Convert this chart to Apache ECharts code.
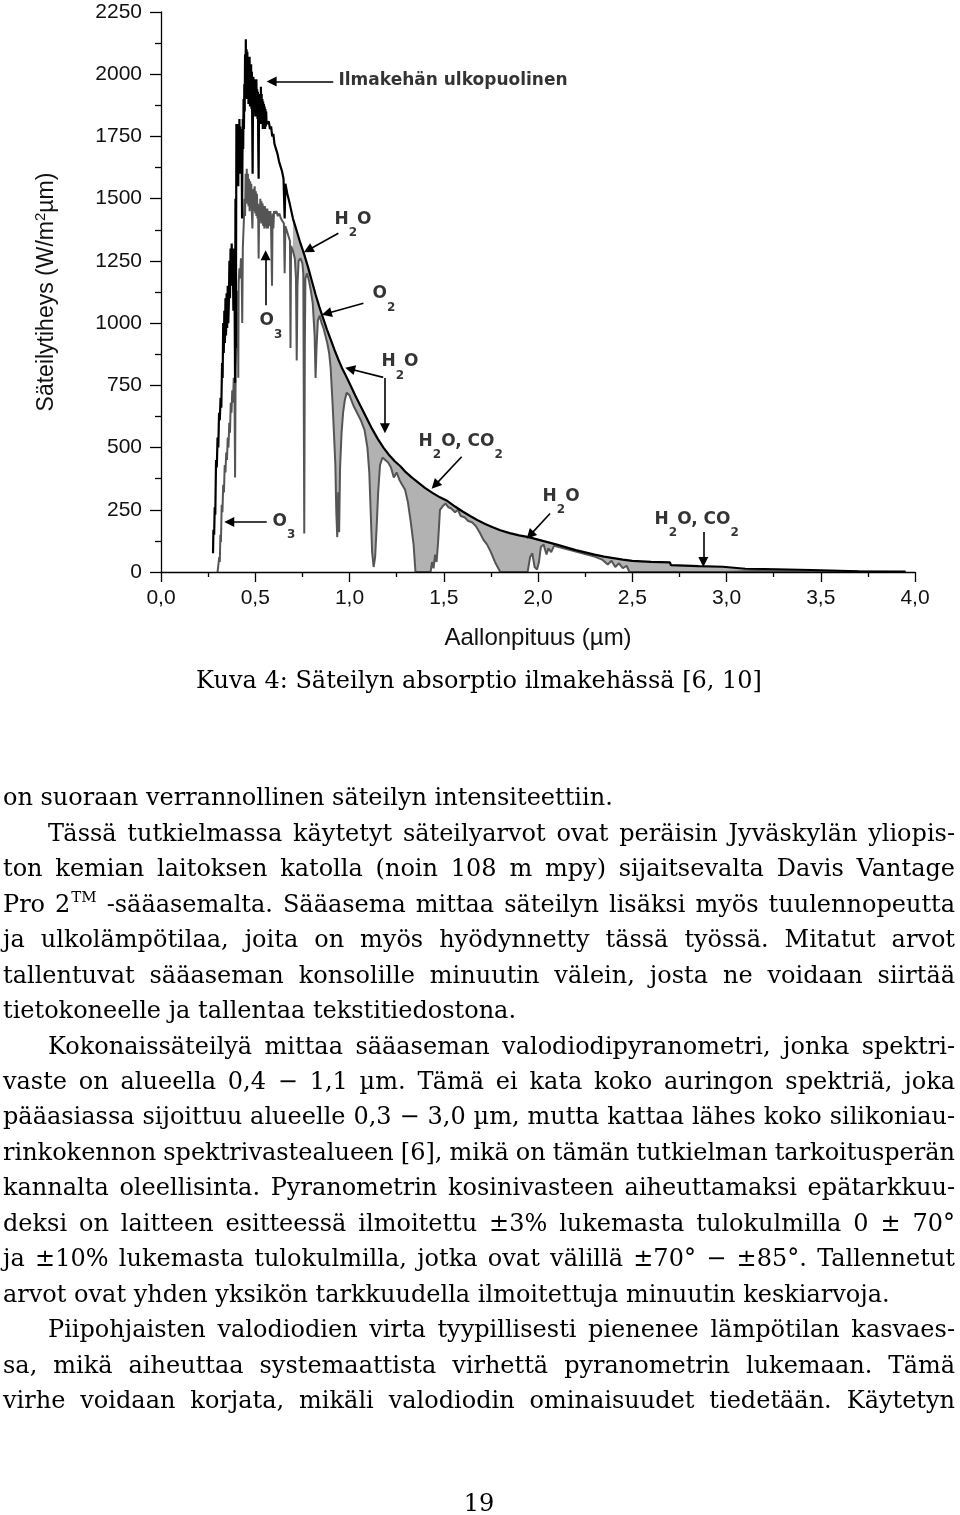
<!DOCTYPE html>
<html>
<head>
<meta charset="utf-8">
<script src="https://cdn.jsdelivr.net/npm/echarts@6/dist/echarts.min.js"></script>
<style>
html,body{margin:0;padding:0;background:#fff;}
#chart{width:960px;height:1515px;}
</style>
</head>
<body>
<div id="chart"></div>
<script>
// ---- Spectrum outside the atmosphere (black): [wavelength µm, W/m²µm] ----
const etrSpectrum = [
 [0.276,75],[0.278,170],[0.282,150],[0.285,260],[0.288,230],[0.292,450],[0.296,420],[0.300,540],[0.304,500],[0.308,640],
 [0.312,610],[0.316,700],[0.320,660],[0.324,840],[0.327,780],[0.330,1000],[0.333,880],[0.336,1050],[0.339,920],[0.342,1100],
 [0.345,950],[0.348,1120],[0.351,980],[0.354,1150],[0.357,1000],[0.360,1080],[0.363,1250],[0.366,1100],[0.369,1300],[0.372,1150],
 [0.375,1320],[0.378,1200],[0.381,1250],[0.384,1050],[0.387,1300],[0.390,1150],[0.393,760],[0.395,1500],[0.397,900],
 [0.400,1800],[0.402,1650],[0.404,1790],[0.406,1600],[0.408,1760],[0.410,1550],[0.412,1800],[0.414,1680],[0.416,1820],[0.418,1640],
 [0.420,1790],[0.422,1600],[0.424,1780],[0.426,1620],[0.428,1700],[0.430,1420],[0.432,1650],[0.434,1820],[0.436,1700],[0.438,1900],
 [0.440,1780],[0.442,1960],[0.444,1850],[0.446,2080],[0.448,1900],[0.450,2140],[0.452,1950],[0.454,2100],[0.456,1900],[0.458,2090],
 [0.460,1920],[0.462,2060],[0.464,1880],[0.466,2050],[0.468,1900],[0.470,2070],[0.472,1870],[0.474,2030],[0.476,1880],[0.478,2040],
 [0.480,1860],[0.482,2010],[0.484,1800],[0.486,1600],[0.488,1880],[0.490,1990],[0.492,1850],[0.494,1980],[0.496,1860],[0.498,1970],
 [0.500,1830],[0.502,1960],[0.504,1850],[0.506,1980],[0.508,1860],[0.510,1940],[0.512,1820],[0.514,1930],[0.516,1700],[0.518,1580],
 [0.520,1850],[0.522,1920],[0.524,1820],[0.526,1910],[0.528,1800],[0.530,1950],[0.532,1830],[0.534,1920],[0.536,1800],[0.538,1900],
 [0.540,1780],[0.542,1890],[0.544,1800],[0.546,1880],[0.548,1790],[0.550,1870],[0.552,1780],[0.554,1860],[0.556,1790],[0.558,1850],
 [0.560,1800],[0.566,1800],[0.572,1810],[0.578,1780],[0.584,1790],[0.590,1750],[0.596,1760],[0.602,1720],[0.610,1700],[0.618,1680],
 [0.626,1650],[0.634,1630],[0.642,1610],[0.650,1580],[0.656,1420],[0.660,1560],[0.670,1520],[0.680,1490],[0.690,1455],[0.700,1420],
 [0.720,1370],[0.740,1320],[0.760,1275],[0.780,1225],[0.800,1170],[0.820,1115],[0.840,1065],[0.860,1020],[0.880,975],[0.900,935],
 [0.920,893],[0.940,855],[0.960,820],[0.980,790],[1.000,758],[1.030,710],[1.060,665],[1.090,620],[1.120,575],[1.150,535],
 [1.180,500],[1.210,470],[1.240,445],[1.270,425],[1.300,400],[1.330,380],[1.360,362],[1.400,338],[1.440,318],[1.480,300],
 [1.520,285],[1.560,263],[1.600,243],[1.640,225],[1.680,208],[1.720,193],[1.760,180],[1.800,168],[1.850,156],[1.900,147],
 [1.950,140],[2.000,130],[2.050,120],[2.100,110],[2.150,99],[2.200,88],[2.250,79],[2.300,70],[2.350,62],[2.400,56],
 [2.450,50],[2.500,45],[2.600,41],[2.700,39],[2.705,28],[2.850,24],[2.980,21],[2.985,15],[3.100,13],[3.200,12],
 [3.205,9],[3.450,8],[3.455,4],[3.700,3],[3.950,2]
];

// ---- Spectrum at sea level (grey): [wavelength µm, W/m²µm] ----
const seaSpectrum = [
 [0.300,0],[0.306,0],[0.309,60],[0.312,40],[0.315,150],[0.318,120],[0.322,270],[0.326,240],[0.330,350],[0.334,320],
 [0.338,430],[0.342,400],[0.346,480],[0.350,450],[0.354,540],[0.358,500],[0.362,600],[0.366,560],[0.370,680],[0.374,640],
 [0.378,730],[0.382,680],[0.386,780],[0.390,700],[0.393,380],[0.396,820],[0.399,900],[0.402,1050],[0.405,980],[0.408,1130],
 [0.410,780],[0.412,1160],[0.416,1220],[0.420,1180],[0.424,1260],[0.428,1200],[0.431,1000],[0.434,1300],[0.438,1380],
 [0.440,1420],[0.443,1500],[0.446,1430],[0.449,1600],[0.452,1500],[0.455,1620],[0.458,1480],[0.461,1600],[0.464,1470],[0.467,1580],
 [0.470,1450],[0.473,1570],[0.476,1460],[0.479,1560],[0.482,1440],[0.485,1380],[0.488,1500],[0.491,1540],[0.494,1450],[0.497,1550],
 [0.500,1440],[0.503,1530],[0.506,1430],[0.509,1520],[0.512,1420],[0.515,1480],[0.518,1260],[0.521,1470],[0.524,1400],[0.527,1500],
 [0.530,1410],[0.533,1490],[0.536,1400],[0.539,1480],[0.542,1390],[0.545,1470],[0.548,1380],[0.551,1470],[0.554,1390],[0.557,1460],
 [0.560,1380],[0.564,1460],[0.568,1380],[0.572,1450],[0.576,1390],[0.580,1450],[0.584,1380],[0.589,1150],[0.592,1440],[0.596,1380],
 [0.600,1450],[0.605,1440],[0.612,1450],[0.620,1430],[0.628,1440],[0.636,1420],[0.644,1420],[0.652,1400],[0.656,1200],[0.660,1390],
 [0.668,1370],[0.676,1350],[0.684,1330],[0.687,900],[0.690,1310],[0.700,1290],[0.710,1260],[0.716,1180],[0.720,850],[0.724,1150],
 [0.730,1250],[0.740,1260],[0.750,1240],[0.755,1200],[0.760,155],[0.763,900],[0.766,1180],[0.775,1200],[0.785,1170],[0.795,1130],
 [0.805,1080],[0.815,950],[0.820,780],[0.825,900],[0.832,1010],[0.842,1030],[0.852,1000],[0.862,980],[0.872,950],[0.882,920],
 [0.892,880],[0.900,820],[0.910,680],[0.918,550],[0.925,430],[0.930,240],[0.935,140],[0.940,320],[0.945,160],[0.950,420],
 [0.958,560],[0.966,640],[0.975,690],[0.985,720],[1.000,710],[1.020,670],[1.040,640],[1.060,610],[1.080,570],[1.095,500],
 [1.105,400],[1.112,250],[1.120,80],[1.128,20],[1.136,60],[1.144,180],[1.152,320],[1.162,430],[1.175,460],[1.190,450],
 [1.205,440],[1.220,420],[1.235,380],[1.250,400],[1.265,370],[1.280,350],[1.295,330],[1.310,280],[1.325,200],[1.340,110],
 [1.350,0],[1.430,0],[1.438,40],[1.446,15],[1.454,70],[1.462,40],[1.470,120],[1.480,250],[1.495,265],[1.510,275],
 [1.525,260],[1.540,255],[1.560,240],[1.575,250],[1.590,225],[1.610,220],[1.630,205],[1.650,200],[1.670,185],[1.690,160],
 [1.710,130],[1.730,110],[1.750,80],[1.775,35],[1.800,0],[1.945,0],[1.958,60],[1.970,75],[1.982,20],[1.995,10],
 [2.005,40],[2.015,100],[2.030,110],[2.045,70],[2.055,95],[2.070,80],[2.085,105],[2.100,102],[2.150,92],[2.200,82],
 [2.250,72],[2.300,62],[2.340,50],[2.370,30],[2.390,45],[2.410,20],[2.430,35],[2.450,15],[2.470,25],[2.485,0],
 [2.995,0],[3.005,4],[3.150,4],[3.155,0],[3.950,0]
];

const absorptionFillStart = 0.70;

// ---- Axis tick labels ----
const xTickLabels = ['0,0','0,5','1,0','1,5','2,0','2,5','3,0','3,5','4,0'];

// ---- Annotations (text top-left anchor, data coordinates) ----
const noteTexts = ['Ilmakehän ulkopuolinen','H_2O','O_2','O_3','H_2O','H_2O, CO_2','O_3','H_2O','H_2O, CO_2'];
const noteWavelength = [0.944,0.923,1.125,0.525,1.172,1.369,0.594,2.027,2.621];
const noteIrradiance = [2006,1450,1149,1041,876,558,236,337,244];
const arrowFrom = [[0.914,1971],[0.941,1361],[1.074,1080],[0.555,1072],[1.179,782],[1.188,779],[1.595,463],[0.561,201],[2.064,235],[2.877,161]];
const arrowTo   = [[0.587,1971],[0.781,1294],[0.879,1039],[0.555,1273],[1.003,816],[1.188,578],[1.454,349],[0.362,201],[1.958,148],[2.877,40]];

// ---- Page text ----
const captionText = 'Kuva 4: Säteilyn absorptio ilmakehässä [6, 10]';
const bodyText = [
 'on suoraan verrannollinen säteilyn intensiteettiin.',
 'Tässä tutkielmassa käytetyt säteilyarvot ovat peräisin Jyväskylän yliopis-',
 'ton kemian laitoksen katolla (noin 108 m mpy) sijaitsevalta Davis Vantage',
 'Pro 2^TM -sääasemalta. Sääasema mittaa säteilyn lisäksi myös tuulennopeutta',
 'ja ulkolämpötilaa, joita on myös hyödynnetty tässä työssä. Mitatut arvot',
 'tallentuvat sääaseman konsolille minuutin välein, josta ne voidaan siirtää',
 'tietokoneelle ja tallentaa tekstitiedostona.',
 'Kokonaissäteilyä mittaa sääaseman valodiodipyranometri, jonka spektri-',
 'vaste on alueella 0,4 − 1,1 µm. Tämä ei kata koko auringon spektriä, joka',
 'pääasiassa sijoittuu alueelle 0,3 − 3,0 µm, mutta kattaa lähes koko silikoniau-',
 'rinkokennon spektrivastealueen [6], mikä on tämän tutkielman tarkoitusperän',
 'kannalta oleellisinta. Pyranometrin kosinivasteen aiheuttamaksi epätarkkuu-',
 'deksi on laitteen esitteessä ilmoitettu ±3% lukemasta tulokulmilla 0 ± 70°',
 'ja ±10% lukemasta tulokulmilla, jotka ovat välillä ±70° − ±85°. Tallennetut',
 'arvot ovat yhden yksikön tarkkuudella ilmoitettuja minuutin keskiarvoja.',
 'Piipohjaisten valodiodien virta tyypillisesti pienenee lämpötilan kasvaes-',
 'sa, mikä aiheuttaa systemaattista virhettä pyranometrin lukemaan. Tämä',
 'virhe voidaan korjata, mikäli valodiodin ominaisuudet tiedetään. Käytetyn'
];
const bodyIndent  = [0,1,0,0,0,0,0,1,0,0,0,0,0,0,0,1,0,0];
const bodyJustify = [0,1,1,1,1,1,0,1,1,1,1,1,1,1,0,1,1,1];
const pageNumber = '19';

// ---------------------------------------------------------------
const etrData = etrSpectrum;
const seaData = seaSpectrum;
const fillData = etrData.filter(d => d[0] >= absorptionFillStart);

const toRich = s => ('{m|' + s.replace(/_(\d)/g, '}{s|$1}{m|') + '}').replace(/\{m\|\}/g, '');
const noteRich = noteTexts.map(toRich);
const noteData = noteWavelength.map((x, i) => [x, noteIrradiance[i]]);
const arrowData = arrowFrom.map((f, i) => [{coord: f}, {coord: arrowTo[i]}]);

// text layout helpers
const mctx = document.createElement('canvas').getContext('2d');
const tw = (s, font) => { mctx.font = font; return mctx.measureText(s).width; };
const bodyFont = "24px 'DejaVu Serif'";
const supFont = "15px 'DejaVu Serif'";
const graphics = [];
function addText(str, x, y, font, align) {
  graphics.push({type: 'text', x: x, y: y, silent: true, z: 100,
    style: {text: str, font: font, fill: '#000', textAlign: align || 'left', textVerticalAlign: 'middle'}});
}
function tokW(tok) {
  if (tok.indexOf('^') >= 0) { const p = tok.split('^'); return tw(p[0], bodyFont) + tw(p[1], supFont) + 1; }
  return tw(tok, bodyFont);
}
addText(captionText, 479, 682, bodyFont, 'center');
bodyText.forEach((line, i) => {
  const y = 799 + 35.47 * i;
  const left = bodyIndent[i] ? 48 : 3;
  const right = 955;
  const words = line.split(' ');
  const widths = words.map(tokW);
  const total = widths.reduce((a, b) => a + b, 0);
  const gap = (bodyJustify[i] && words.length > 1) ? (right - left - total) / (words.length - 1) : tw(' ', bodyFont);
  let x = left;
  words.forEach((w, k) => {
    if (w.indexOf('^') >= 0) {
      const p = w.split('^');
      addText(p[0], x, y, bodyFont);
      addText(p[1], x + tw(p[0], bodyFont) + 1, y - 7, supFont);
    } else {
      addText(w, x, y, bodyFont);
    }
    x += widths[k] + gap;
  });
});
addText(pageNumber, 479, 1505, bodyFont, 'center');

const axisFont = 'Liberation Sans';
const chart = echarts.init(document.getElementById('chart'), null, {renderer: 'canvas'});
chart.setOption({
  animation: false,
  backgroundColor: '#fff',
  grid: {left: 161, right: 45, top: 12, bottom: 943, containLabel: false, outerBoundsMode: 'none'},
  xAxis: {
    type: 'value', min: 0, max: 4, interval: 0.5, z: 10,
    name: 'Aallonpituus (µm)', nameLocation: 'middle', nameGap: 54,
    nameTextStyle: {fontFamily: axisFont, fontSize: 24, color: '#111'},
    axisLine: {show: true, onZero: false, lineStyle: {color: '#000', width: 1.3}},
    axisTick: {show: true, length: 10, lineStyle: {color: '#000', width: 1.3}},
    minorTick: {show: true, splitNumber: 2, length: 5, lineStyle: {color: '#000', width: 1.3}},
    splitLine: {show: false}, minorSplitLine: {show: false},
    axisLabel: {margin: 16, fontFamily: axisFont, fontSize: 21, color: '#111',
      formatter: v => xTickLabels[Math.round(v / 0.5)]}
  },
  yAxis: {
    type: 'value', min: 0, max: 2250, interval: 250, z: 10,
    name: 'Säteilytiheys (W/m{sup|2}µm)', nameLocation: 'middle', nameGap: 100,
    nameTextStyle: {fontFamily: axisFont, fontSize: 23, color: '#111', lineHeight: 28,
      rich: {sup: {fontFamily: axisFont, fontSize: 15, color: '#111', lineHeight: 10, verticalAlign: 'top'}}},
    axisLine: {show: true, lineStyle: {color: '#000', width: 1.3}},
    axisTick: {show: true, length: 11, lineStyle: {color: '#000', width: 1.3}},
    minorTick: {show: true, splitNumber: 2, length: 6, lineStyle: {color: '#000', width: 1.3}},
    splitLine: {show: false}, minorSplitLine: {show: false},
    axisLabel: {margin: 19, fontFamily: axisFont, fontSize: 21, color: '#111', formatter: v => String(v)}
  },
  series: [
    {name: 'fill', type: 'line', data: fillData, symbol: 'none', silent: true, z: 1,
     lineStyle: {opacity: 0}, areaStyle: {color: '#b2b2b2', opacity: 1}},
    {name: 'mask', type: 'line', data: seaData, symbol: 'none', silent: true, z: 2,
     lineStyle: {opacity: 0}, areaStyle: {color: '#ffffff', opacity: 1}},
    {name: 'Merenpinnalla', type: 'line', data: seaData, symbol: 'none', silent: true, z: 3,
     lineStyle: {color: '#555', width: 2}},
    {name: 'Ilmakehän ulkopuolinen', type: 'line', data: etrData, symbol: 'none', silent: true, z: 4,
     lineStyle: {color: '#000', width: 2.2}},
    {name: 'notes', type: 'scatter', data: noteData, symbolSize: 1, silent: true, z: 20,
     itemStyle: {color: 'rgba(0,0,0,0)'},
     label: {show: true, position: [0, 0], align: 'left', verticalAlign: 'top',
       formatter: p => noteRich[p.dataIndex],
       rich: {
         m: {fontFamily: 'DejaVu Sans', fontWeight: 'bold', fontSize: 17, color: '#000', lineHeight: 18, verticalAlign: 'top'},
         s: {fontFamily: 'DejaVu Sans', fontWeight: 'bold', fontSize: 12, color: '#000', lineHeight: 12, verticalAlign: 'top', padding: [16, 0, 0, 0]}
       }},
     markLine: {silent: true, symbol: ['none', 'triangle'], symbolSize: 10, animation: false,
       label: {show: false}, lineStyle: {color: '#000', width: 1.6, type: 'solid'},
       emphasis: {disabled: true}, data: arrowData}}
  ],
  graphic: graphics
});
</script>
</body>
</html>
